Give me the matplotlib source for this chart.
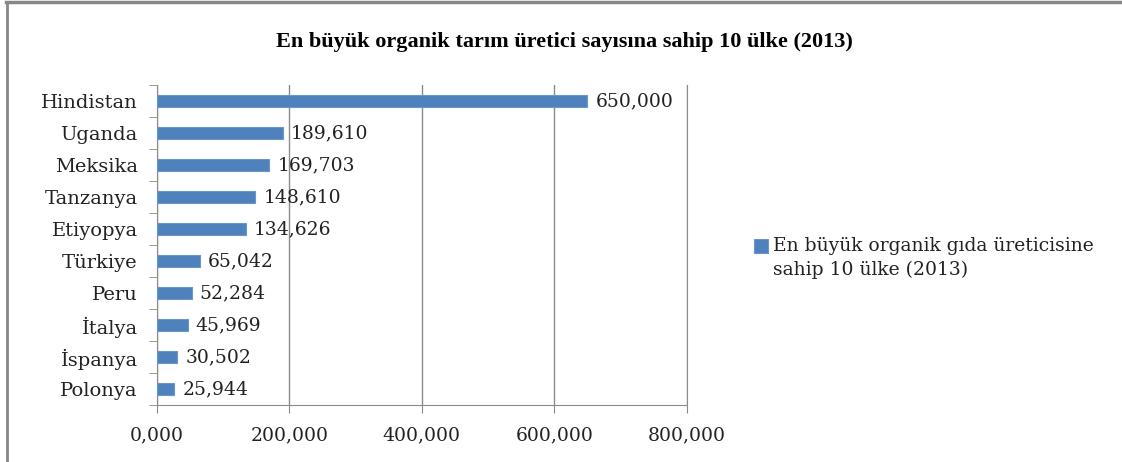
import matplotlib.pyplot as plt
from matplotlib.lines import Line2D
from matplotlib.patches import Rectangle
from matplotlib.legend_handler import HandlerPatch

# veriler
ulkeler = ["Hindistan", "Uganda", "Meksika", "Tanzanya", "Etiyopya",
           "Türkiye", "Peru", "İtalya", "İspanya", "Polonya"]
ureticiler = [650000, 189610, 169703, 148610, 134626,
              65042, 52284, 45969, 30502, 25944]
x_ticks = [0, 200000, 400000, 600000, 800000]
x_tick_labels = ["0,000", "200,000", "400,000", "600,000", "800,000"]
seri_adi = "En büyük organik gıda üreticisine\nsahip 10 ülke (2013)"

plt.rcParams['font.family'] = ['DejaVu Serif', 'Liberation Serif']

fig = plt.figure(figsize=(11.22, 4.62), dpi=100)
ax = fig.add_axes([0.140, 0.123, 0.472, 0.693])

y = list(range(len(ulkeler)))[::-1]
bars = ax.barh(y, ureticiler, height=0.38, color="#4F81BD", edgecolor="#6A96CC",
               linewidth=0.8, zorder=3, label=seri_adi)

for yi, v in zip(y, ureticiler):
    ax.text(v + 12000, yi, f"{v:,}", va="center", ha="left", fontsize=13.5,
            color="#222222", zorder=4)

ax.set_xlim(0, 800000)
ax.set_ylim(-0.5, len(ulkeler) - 0.5)
ax.set_xticks(x_ticks)
ax.set_xticklabels(x_tick_labels, fontsize=13.5, color="#222222")
ax.set_yticks(y)
ax.set_yticklabels(ulkeler, fontsize=14, color="#222222")
ax.set_yticks([i + 0.5 for i in range(-1, len(ulkeler))], minor=True)
ax.tick_params(axis="y", which="major", length=0, pad=14)
ax.tick_params(axis="y", which="minor", length=6, color="#888888")
ax.tick_params(axis="x", length=6, color="#888888", pad=9)

ax.grid(axis="x", color="#8c8c8c", linewidth=1.0, zorder=0)
ax.spines["top"].set_visible(False)
for s in ["left", "bottom", "right"]:
    ax.spines[s].set_color("#8c8c8c")

fig.text(0.503, 0.91, "En büyük organik tarım üretici sayısına sahip 10 ülke (2013)",
         ha="center", va="center", fontsize=16, fontweight="bold",
         family=['Liberation Serif', 'DejaVu Serif'])


# legend kutusu ilk satırın hizasında dursun
def ust_kare(legend, orig_handle, xdescent, ydescent, width, height, fontsize):
    return Rectangle((-xdescent, -ydescent + 9), width, height)


leg = ax.legend(handles=[bars.patches[0]], labels=[seri_adi],
                loc="center left", bbox_to_anchor=(1.095, 0.46), frameon=False,
                fontsize=13.5, handlelength=0.75, handleheight=0.75, handletextpad=0.25,
                labelcolor="#222222",
                handler_map={Rectangle: HandlerPatch(patch_func=ust_kare)})
leg.get_texts()[0].set_linespacing(1.45)

# çerçeve
fig.add_artist(Line2D([0.005, 1.0], [0.995, 0.995], color="#888888", linewidth=2.5,
                      transform=fig.transFigure))
fig.add_artist(Line2D([0.006, 0.006], [0.0, 0.995], color="#888888", linewidth=2,
                      transform=fig.transFigure))

fig.savefig("out.png", dpi=100)
